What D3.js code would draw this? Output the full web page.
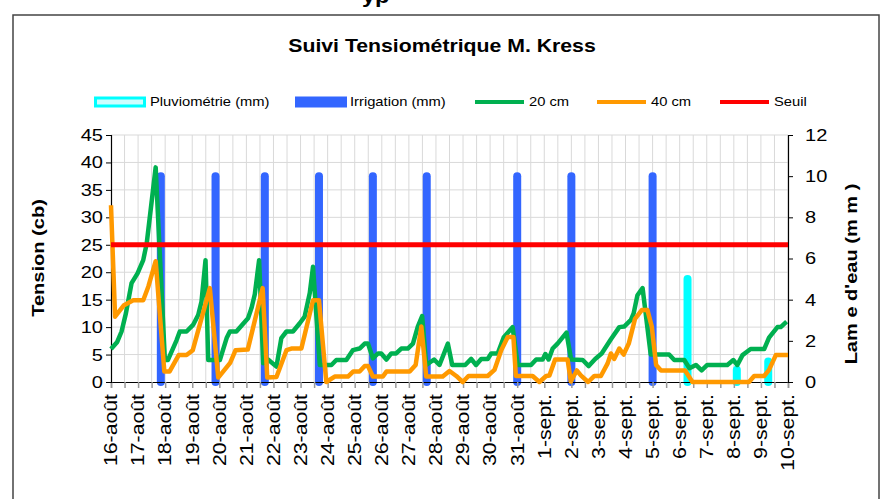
<!DOCTYPE html>
<html><head><meta charset="utf-8">
<script src="https://cdn.jsdelivr.net/npm/d3@7"></script>
<style>
body{margin:0;background:#fff;}
svg{display:block;font-family:"Liberation Sans",Arial,sans-serif;}
</style></head>
<body><svg id="c" width="889" height="499"></svg>
<script>
// ---- data ----
const dayLabels = ["16-août","17-août","18-août","19-août","20-août","21-août","22-août","23-août","24-août","25-août","26-août","27-août","28-août","29-août","30-août","31-août","1-sept.","2-sept.","3-sept.","4-sept.","5-sept.","6-sept.","7-sept.","8-sept.","9-sept.","10-sept."];
// [days since 16-août, cb]
const tension20 = [[0,6.0],[0.23,7.3],[0.39,9.2],[0.55,12.5],[0.76,18.0],[0.98,19.8],[1.19,22.2],[1.32,25.3],[1.65,39.1],[1.99,4.0],[2.10,4.0],[2.42,7.6],[2.54,9.2],[2.79,9.2],[3.03,10.4],[3.22,12.2],[3.34,14.6],[3.49,22.2],[3.59,4.0],[4.02,4.0],[4.27,8.0],[4.39,9.2],[4.63,9.2],[5.06,11.6],[5.19,13.5],[5.31,16.0],[5.47,22.2],[5.62,3.4],[5.80,4.1],[6.11,2.8],[6.29,8.0],[6.48,9.2],[6.72,9.2],[6.97,10.7],[7.15,11.9],[7.34,16.2],[7.46,21.0],[7.71,3.1],[8.14,3.1],[8.32,4.0],[8.69,4.0],[8.93,5.8],[9.18,6.1],[9.37,7.0],[9.49,7.0],[9.67,4.3],[9.86,5.2],[9.98,5.2],[10.17,4.1],[10.35,5.2],[10.53,5.2],[10.72,6.1],[10.96,6.1],[11.15,7.0],[11.33,10.1],[11.49,12.0],[11.64,3.1],[11.93,4.1],[12.13,3.1],[12.44,7.0],[12.60,3.1],[13.08,3.1],[13.30,4.2],[13.48,3.1],[13.67,4.2],[13.91,4.2],[14.04,5.2],[14.28,5.2],[14.50,8.1],[14.83,10.0],[15.02,3.1],[15.51,3.1],[15.70,4.1],[15.94,4.1],[16.04,5.1],[16.16,4.1],[16.31,6.1],[16.49,7.0],[16.82,9.0],[16.99,4.1],[17.42,4.0],[17.64,2.9],[17.88,4.2],[18.12,5.2],[18.46,7.8],[18.77,10.0],[18.95,10.1],[19.20,11.3],[19.30,12.5],[19.44,15.8],[19.63,17.1],[19.93,5.0],[20.61,5.0],[20.80,4.0],[21.17,4.0],[21.36,2.5],[21.60,3.1],[21.81,2.1],[22.02,3.1],[22.76,3.1],[22.98,4.0],[23.13,3.1],[23.32,4.9],[23.62,6.0],[24.12,6.0],[24.30,8.1],[24.61,10.0],[24.73,10.0],[24.95,11.0]];
const tension40 = [[0,32.2],[0.15,11.9],[0.48,14.0],[0.82,14.9],[1.19,14.9],[1.38,17.4],[1.65,22.0],[1.97,1.9],[2.16,1.9],[2.50,4.9],[2.79,4.9],[3.02,5.8],[3.65,17.1],[3.96,0.8],[4.40,3.5],[4.60,5.8],[5.05,5.9],[5.60,17.1],[5.77,0.8],[6.11,0.9],[6.48,5.8],[6.66,6.1],[7.03,6.1],[7.46,14.9],[7.68,14.9],[7.95,0],[8.26,1.0],[8.75,1.0],[8.94,1.9],[9.18,1.9],[9.37,2.9],[9.49,2.9],[9.67,1.0],[10.04,1.0],[10.17,1.9],[11.03,1.9],[11.25,3.1],[11.46,10.1],[11.64,1.0],[12.25,1.0],[12.50,2.0],[12.75,1.1],[12.99,0],[13.20,1.1],[13.91,1.1],[14.16,2.2],[14.41,5.8],[14.65,8.2],[14.86,8.2],[14.95,1.1],[15.57,1.1],[15.82,0],[16.07,1.1],[16.19,1.2],[16.40,4.1],[16.86,4.1],[16.98,0.1],[17.20,2.1],[17.35,1.2],[17.62,0],[17.85,1.1],[18.09,1.1],[18.34,3.4],[18.46,5.2],[18.58,4.2],[18.77,6.1],[18.93,5.0],[19.12,7.0],[19.35,11.5],[19.60,13.1],[19.81,13.1],[19.97,10.1],[20.13,3.1],[20.31,2.1],[21.20,2.1],[21.47,0],[23.56,0],[23.75,1.1],[24.12,1.1],[24.30,2.2],[24.55,4.9],[25.0,4.9]];
const irrigDays = [1.84,3.86,5.68,7.68,9.67,11.66,15.0,17.0,20.0];
const irrigMm = [10,10,10,10,10,10,10,10,10];
const pluvioDays = [21.29,23.11,24.27];
const pluvioMm = [5.0,0.6,1.0];
const seuil = 25;
const leftTicks = [0,5,10,15,20,25,30,35,40,45];
const rightTicks = [0,2,4,6,8,10,12];

// ---- drawing ----
const svg = d3.select("#c");
const S = 1.18; // text widening
const L = 111, R = 788, T = 135, B = 382;
const x = d3.scaleLinear().domain([0,25]).range([L,R]);
const y = d3.scaleLinear().domain([0,45]).range([B,T]);
const y2 = d3.scaleLinear().domain([0,12]).range([B,T]);

function txt(g, s, tx, ty, opt){
  const o = Object.assign({size:17, weight:"normal", anchor:"start", rot:0, dy:"0"}, opt||{});
  return g.append("text").attr("transform",`translate(${tx},${ty}) rotate(${o.rot}) scale(${S},1)`)
    .attr("font-size",o.size).attr("font-weight",o.weight).attr("text-anchor",o.anchor)
    .attr("dy",o.dy).attr("fill","#000").text(s);
}

// frame
svg.append("rect").attr("x",13).attr("y",15).attr("width",866).attr("height",500)
  .attr("fill","none").attr("stroke","#444").attr("stroke-width",1.5);
txt(svg,"yp",362,3,{size:20,weight:"bold"});

// title
txt(svg,"Suivi Tensiométrique M. Kress",442,52,{size:18,weight:"bold",anchor:"middle"});

// gridlines
const g = svg.append("g");
g.selectAll("line.h").data(leftTicks.slice(1)).join("line")
  .attr("x1",L).attr("x2",R).attr("y1",d=>y(d)).attr("y2",d=>y(d))
  .attr("stroke","#d9d9d9").attr("stroke-width",1);
const halfDays = d3.range(1,51).map(i=>i/2);
g.selectAll("line.v").data(halfDays).join("line")
  .attr("x1",d=>x(d)).attr("x2",d=>x(d)).attr("y1",T).attr("y2",B)
  .attr("stroke","#d9d9d9").attr("stroke-width",1);

// bars (round-capped thick strokes on right axis)
svg.append("g").selectAll("line").data(irrigDays).join("line")
  .attr("x1",d=>x(d)).attr("x2",d=>x(d)).attr("y1",y2(0)).attr("y2",(d,i)=>y2(irrigMm[i]))
  .attr("stroke","#3366ff").attr("stroke-width",8).attr("stroke-linecap","round");
svg.append("g").selectAll("line").data(pluvioDays).join("line")
  .attr("x1",d=>x(d)).attr("x2",d=>x(d)).attr("y1",y2(0)).attr("y2",(d,i)=>y2(pluvioMm[i]))
  .attr("stroke","#00ffff").attr("stroke-width",8).attr("stroke-linecap","round");

// axes
const xAxis = d3.axisBottom(x).tickValues(d3.range(0,51).map(i=>i/2)).tickSize(6).tickFormat("");
const gx = svg.append("g").attr("transform",`translate(0,${B})`).call(xAxis);
gx.select(".domain").attr("stroke","#000").attr("stroke-width",1.2);
gx.selectAll(".tick line").attr("stroke","#999").attr("stroke-width",1.5);
const gyl = svg.append("g").attr("transform",`translate(${L},0)`)
  .call(d3.axisLeft(y).tickValues(leftTicks).tickSize(5).tickFormat(""));
gyl.select(".domain").attr("stroke","#000").attr("stroke-width",1.2);
gyl.selectAll(".tick line").attr("stroke","#000");
const gyr = svg.append("g").attr("transform",`translate(${R},0)`)
  .call(d3.axisRight(y2).tickValues(rightTicks).tickSize(5).tickFormat(""));
gyr.select(".domain").attr("stroke","#000").attr("stroke-width",1.2);
gyr.selectAll(".tick line").attr("stroke","#000");

// tick labels
const tl = svg.append("g");
leftTicks.forEach(v=>txt(tl,String(v),103,y(v),{anchor:"end",dy:"0.35em"}));
rightTicks.forEach(v=>txt(tl,String(v),805,y2(v),{anchor:"start",dy:"0.35em"}));
dayLabels.forEach((s,i)=>txt(tl,s,x(i),394,{anchor:"end",rot:-90,dy:"0.35em",size:18}));

// axis titles
txt(svg,"Tension (cb)",38,258,{anchor:"middle",rot:-90,dy:"0.35em",weight:"bold"});
txt(svg,"Lam e d'eau (m m )",851,274,{anchor:"middle",rot:-90,dy:"0.35em",weight:"bold"});

// lines
svg.append("path").datum(tension20).attr("d",d3.line().x(d=>x(d[0])).y(d=>y(d[1])))
  .attr("fill","none").attr("stroke","#00b050").attr("stroke-width",4.5).attr("stroke-linejoin","round");
svg.append("path").datum(tension40).attr("d",d3.line().x(d=>x(d[0])).y(d=>y(d[1])))
  .attr("fill","none").attr("stroke","#ff9900").attr("stroke-width",4.5).attr("stroke-linejoin","round");
svg.append("line").attr("x1",x(0)).attr("x2",x(25)).attr("y1",y(seuil)).attr("y2",y(seuil))
  .attr("stroke","#ff0000").attr("stroke-width",5);

// legend
const lg = svg.append("g");
const ly = 102;
lg.append("rect").attr("x",95.5).attr("y",ly-4).attr("width",49).attr("height",8)
  .attr("fill","#ccffff").attr("stroke","#00ffff").attr("stroke-width",3);
txt(lg,"Pluviométrie (mm)",150,ly,{size:12.5,dy:"0.35em"});
lg.append("rect").attr("x",295).attr("y",ly-5.5).attr("width",52).attr("height",11).attr("fill","#3366ff");
txt(lg,"Irrigation (mm)",350,ly,{size:12.5,dy:"0.35em"});
[[475,"#00b050","20 cm"],[597,"#ff9900","40 cm"],[720,"#ff0000","Seuil"]].forEach(([lx,c,s])=>{
  lg.append("line").attr("x1",lx).attr("x2",lx+49).attr("y1",ly).attr("y2",ly).attr("stroke",c).attr("stroke-width",4);
  txt(lg,s,lx+54,ly,{size:12.5,dy:"0.35em"});
});
</script></body></html>
